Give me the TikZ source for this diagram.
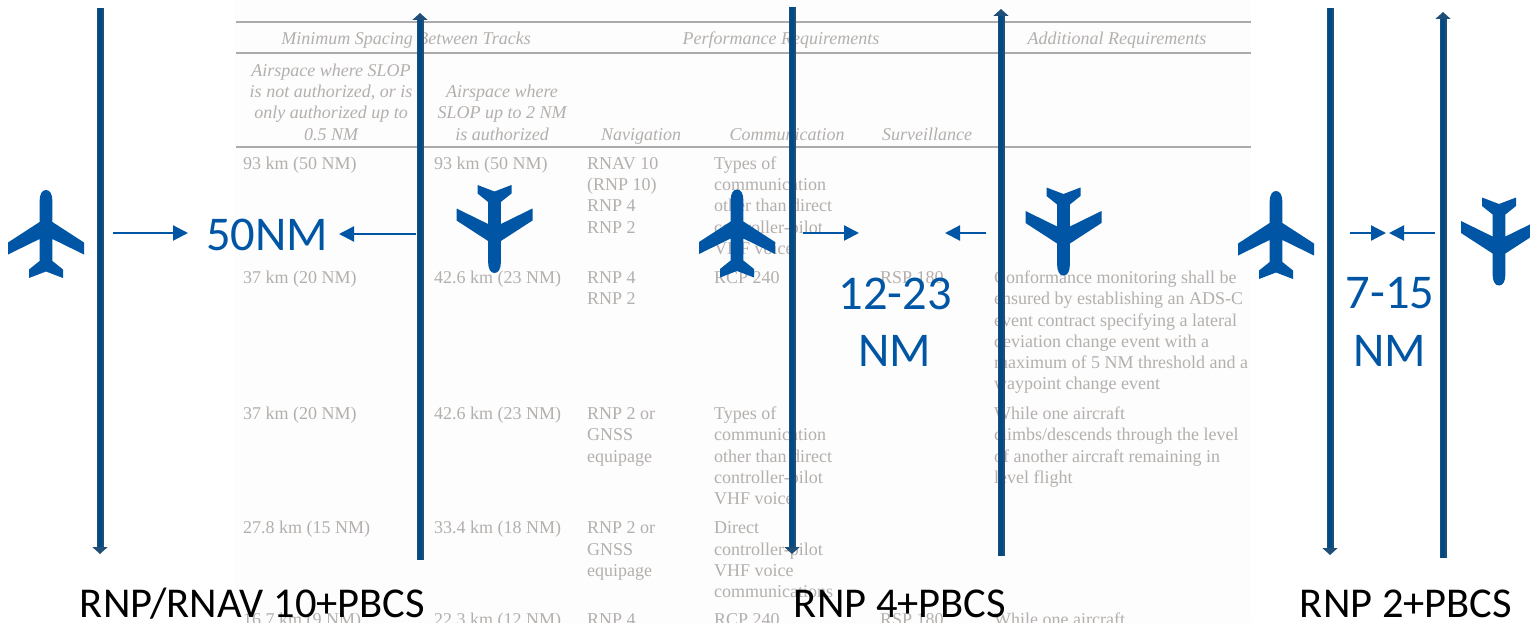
\documentclass[tikz,border=0pt]{standalone}
\usepackage{fontspec}
\setmainfont{Liberation Serif}
\newfontfamily\calib{Carlito}
\usetikzlibrary{arrows.meta}
\definecolor{planeblue}{HTML}{0056A4}
\definecolor{trackedge}{HTML}{1F4E79}
\definecolor{trackfill}{HTML}{004B85}
\definecolor{tabgray}{HTML}{B3AFAC}
\definecolor{rulegray}{HTML}{ABABAB}
\definecolor{pagetint}{HTML}{FDFDFD}
\newcount\tn
\newcommand{\Tt}[4][base west]{\global\advance\tn by 1 \node[tabtext,anchor=#1] (t\the\tn) at (#2,#3) {#4};}
\newcommand{\Ti}[4][base]{\global\advance\tn by 1 \node[tabtext,anchor=#1,font=\fontsize{18}{21}\selectfont\itshape] (t\the\tn) at (#2,#3) {#4};}
\newcommand{\Track}[3]{%
  \draw[trackedge,line width=7pt,-{Triangle[length=7pt,width=15pt]}] (#1) -- (#2);
  \path[draw=trackfill,line width=4.5pt,shorten >=7pt] (#1) -- (#2);}
\tikzset{
  tabtext/.style={inner sep=0pt,text=tabgray,font=\fontsize{18}{21}\selectfont},
  tabrule/.style={draw=rulegray,line width=1.5pt},
  biglabel/.style={inner sep=0pt,text=planeblue,font=\calib\fontsize{48.5}{52}\selectfont},
  foot/.style={inner sep=0pt,text=black,font=\calib\fontsize{42.5}{46}\selectfont},
  gap/.style={draw=planeblue,line width=2.2pt,-{Triangle[length=15pt,width=15pt]}},
  jet/.pic={\fill[planeblue]
     (0,-44) .. controls (3.8,-44) and (6.4,-40) .. (6.4,-33) -- (6.4,-12) -- (38,8.5) -- (38,20.5) -- (6.4,5) -- (6.4,27)
     -- (17,35.5) -- (17,44) -- (0,37.5) -- (-17,44) -- (-17,35.5) -- (-6.4,27) -- (-6.4,5) -- (-38,20.5) -- (-38,8.5)
     -- (-6.4,-12) -- (-6.4,-33) .. controls (-6.4,-40) and (-3.8,-44) .. (0,-44) -- cycle;}
}
\begin{document}
\begin{tikzpicture}[x=1pt,y=-1pt]
\useasboundingbox (0,0) rectangle (1530,623);
\clip (0,0) rectangle (1530,623);
\fill[white] (0,0) rectangle (1530,623);
\fill[pagetint] (235,0) rectangle (1251,623);
% table rules
\coordinate (r1a) at (236,22); \coordinate (r1b) at (1251,22);
\coordinate (r2a) at (236,53); \coordinate (r2b) at (1251,53);
\coordinate (r3a) at (236,147); \coordinate (r3b) at (1251,147);
\draw[tabrule] (r1a) -- (r1b);
\draw[tabrule] (r2a) -- (r2b);
\draw[tabrule] (r3a) -- (r3b);
% table header
\Ti{406}{45}{Minimum Spacing Between Tracks}
\Ti{781}{45}{Performance Requirements}
\Ti{1117}{45}{Additional Requirements}
\Ti{331}{77}{Airspace where SLOP}
\Ti{331}{98}{is not authorized, or is}
\Ti{331}{119}{only authorized up to}
\Ti{331}{140}{0.5 NM}
\Ti{502}{98}{Airspace where}
\Ti{502}{119}{SLOP up to 2 NM}
\Ti{502}{140}{is authorized}
\Ti{641}{140}{Navigation}
\Ti{787}{140}{Communication}
\Ti{927}{140}{Surveillance}
% row 1
\Tt{243}{169}{93 km (50 NM)}
\Tt{434}{169}{93 km (50 NM)}
\Tt{587}{169}{RNAV 10}
\Tt{587}{190}{(RNP 10)}
\Tt{587}{211}{RNP 4}
\Tt{587}{233}{RNP 2}
\Tt{714}{169}{Types of}
\Tt{714}{190}{communication}
\Tt{714}{211}{other than direct}
\Tt{714}{233}{controller-pilot}
\Tt{714}{254}{VHF voice}
% row 2
\Tt{243}{283}{37 km (20 NM)}
\Tt{434}{283}{42.6 km (23 NM)}
\Tt{587}{283}{RNP 4}
\Tt{587}{304}{RNP 2}
\Tt{714}{283}{RCP 240}
\Tt{880}{283}{RSP 180}
\Tt{994}{283}{Conformance monitoring shall be}
\Tt{994}{304}{ensured by establishing an ADS-C}
\Tt{994}{326}{event contract specifying a lateral}
\Tt{994}{347}{deviation change event with a}
\Tt{994}{368}{maximum of 5 NM threshold and a}
\Tt{994}{389}{waypoint change event}
% row 3
\Tt{243}{419}{37 km (20 NM)}
\Tt{434}{419}{42.6 km (23 NM)}
\Tt{587}{419}{RNP 2 or}
\Tt{587}{440}{GNSS}
\Tt{587}{462}{equipage}
\Tt{714}{419}{Types of}
\Tt{714}{440}{communication}
\Tt{714}{462}{other than direct}
\Tt{714}{483}{controller-pilot}
\Tt{714}{504}{VHF voice}
\Tt{994}{419}{While one aircraft}
\Tt{994}{440}{climbs/descends through the level}
\Tt{994}{462}{of another aircraft remaining in}
\Tt{994}{483}{level flight}
% row 4
\Tt{243}{533}{27.8 km (15 NM)}
\Tt{434}{533}{33.4 km (18 NM)}
\Tt{587}{533}{RNP 2 or}
\Tt{587}{555}{GNSS}
\Tt{587}{576}{equipage}
\Tt{714}{533}{Direct}
\Tt{714}{555}{controller-pilot}
\Tt{714}{576}{VHF voice}
\Tt{714}{597}{communications}
% row 5
\Tt{243}{625}{16.7 km (9 NM)}
\Tt{434}{625}{22.3 km (12 NM)}
\Tt{587}{625}{RNP 4}
\Tt{714}{625}{RCP 240}
\Tt{880}{625}{RSP 180}
\Tt{994}{625}{While one aircraft}
% tracks
\coordinate (l1a) at (100,8);    \coordinate (l1b) at (100,554);
\coordinate (l2a) at (420,560);  \coordinate (l2b) at (420,13);
\coordinate (l3a) at (792,7);    \coordinate (l3b) at (792,554);
\coordinate (l4a) at (1001,556); \coordinate (l4b) at (1001,9);
\coordinate (l5a) at (1330,8);   \coordinate (l5b) at (1330,555);
\coordinate (l6a) at (1443,558); \coordinate (l6b) at (1443,12);
\Track{l1a}{l1b}{}
\Track{l2a}{l2b}{}
\Track{l3a}{l3b}{}
\Track{l4a}{l4b}{}
\Track{l5a}{l5b}{}
\Track{l6a}{l6b}{}
% aircraft
\pic at (46,234) {jet};
\pic[rotate=180] at (494.5,229) {jet};
\pic at (737,233.5) {jet};
\pic[rotate=180] at (1063.5,231.5) {jet};
\pic at (1276,235) {jet};
\pic[rotate=180] at (1499,241.5) {jet};
% separation labels
\node[biglabel] (n50) at (267,235) {50NM};
\node[biglabel] (n12) at (895,294) {12-23};
\node[biglabel] (n12b) at (895,351) {NM};
\node[biglabel] (n7) at (1390,293) {7-15};
\node[biglabel] (n7b) at (1390,351) {NM};
% gap arrows
\coordinate (a1s) at (113,233);  \coordinate (a1e) at (188,233);
\coordinate (a2s) at (416,234);  \coordinate (a2e) at (339,234);
\coordinate (a3s) at (803,233);  \coordinate (a3e) at (859,233);
\coordinate (a4s) at (986,233);  \coordinate (a4e) at (945,233);
\coordinate (a5s) at (1350,233); \coordinate (a5e) at (1386,233);
\coordinate (a6s) at (1435,233); \coordinate (a6e) at (1389,233);
\draw[gap] (a1s) -- (a1e);
\draw[gap] (a2s) -- (a2e);
\draw[gap] (a3s) -- (a3e);
\draw[gap] (a4s) -- (a4e);
\draw[gap] (a5s) -- (a5e);
\draw[gap] (a6s) -- (a6e);
% footers
\node[foot] (f1) at (252.5,604) {RNP/RNAV 10+PBCS};
\node[foot] (f2) at (900,604) {RNP 4+PBCS};
\node[foot] (f3) at (1406,604) {RNP 2+PBCS};
\end{tikzpicture}
\end{document}
